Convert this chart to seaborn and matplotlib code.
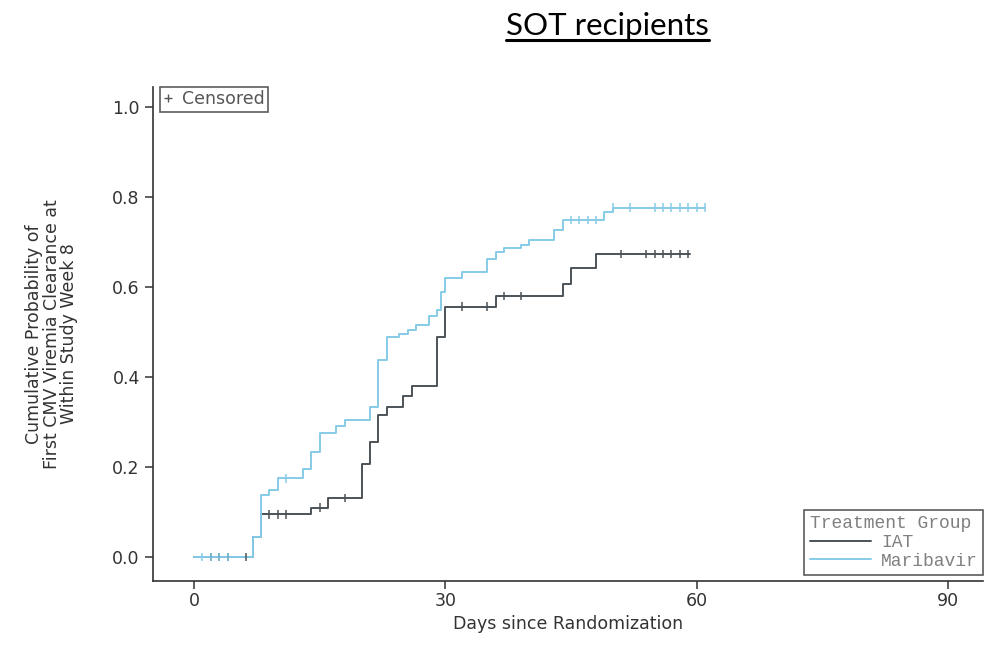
import numpy as np
import pandas as pd
import matplotlib
matplotlib.use("Agg")
import matplotlib.pyplot as plt
from matplotlib.lines import Line2D
import seaborn as sns

# Kaplan-Meier style step data (day of step, cumulative probability after step)
iat_days = [0, 7, 8, 14, 16, 20, 21, 22, 23, 25, 26, 29, 30, 36, 44, 45, 48]
iat_prob = [0.0, 0.044, 0.094, 0.109, 0.130, 0.207, 0.254, 0.315, 0.333,
            0.357, 0.379, 0.489, 0.556, 0.580, 0.607, 0.641, 0.672]
iat_end = 59.2
iat_censor = [2, 3, 4, 6.2, 9, 10, 11, 15, 18, 32, 35, 37, 39,
              51, 54, 55, 56, 57, 58, 59]

mar_days = [0, 7, 8, 9, 10, 13, 14, 15, 17, 18, 21, 22, 23, 24.5, 25.5, 26.5,
            28, 29, 29.5, 30, 32, 35, 36, 37, 39, 40, 43, 44, 49, 50]
mar_prob = [0.0, 0.044, 0.137, 0.148, 0.174, 0.196, 0.233, 0.276, 0.291, 0.304,
            0.333, 0.437, 0.489, 0.496, 0.504, 0.515, 0.535, 0.548, 0.589,
            0.619, 0.633, 0.661, 0.677, 0.685, 0.693, 0.703, 0.726, 0.748,
            0.767, 0.776]
mar_end = 61.0
mar_censor = [1, 2, 3, 4, 11, 45, 46, 47, 48, 50, 52, 55, 56, 57, 58, 59, 60, 61]

groups = ["IAT", "Maribavir"]
palette = {"IAT": "#4b5258", "Maribavir": "#86cbe8"}

x_ticks = [0, 30, 60, 90]
y_ticks = [0.0, 0.2, 0.4, 0.6, 0.8, 1.0]


def build_frames(name, days, prob, end, censor):
    days_arr = np.array(list(days) + [end])
    prob_arr = np.array(list(prob) + [prob[-1]])
    curve = pd.DataFrame({"day": days_arr, "prob": prob_arr, "group": name})
    idx = np.searchsorted(days_arr, censor, side="right") - 1
    cens = pd.DataFrame({"day": censor, "prob": prob_arr[idx], "group": name})
    return curve, cens


c1, k1 = build_frames("IAT", iat_days, iat_prob, iat_end, iat_censor)
c2, k2 = build_frames("Maribavir", mar_days, mar_prob, mar_end, mar_censor)
curves = pd.concat([c1, c2], ignore_index=True)
censored = pd.concat([k1, k2], ignore_index=True)

sns.set_style("ticks")
plt.rcParams["font.family"] = ["DejaVu Sans"]

fig = plt.figure(figsize=(9.84, 6.51), dpi=100)
ax = fig.add_axes([0.1555, 0.1075, 0.8435, 0.759])

sns.lineplot(data=curves, x="day", y="prob", hue="group", palette=palette,
             drawstyle="steps-post", estimator=None, sort=False,
             linewidth=1.4, legend=False, ax=ax)
sns.scatterplot(data=censored, x="day", y="prob", hue="group", palette=palette,
                marker="|", s=36, linewidth=1.1, legend=False, ax=ax, zorder=3)

ax.set_xlim(-4.9, 94.2)
ax.set_ylim(-0.054, 1.044)
ax.set_xticks(x_ticks)
ax.set_yticks(y_ticks)
ax.set_yticklabels([f"{v:.1f}" for v in y_ticks])
ax.tick_params(axis="both", labelsize=12.5, colors="#333333", length=6, width=1.1)
ax.tick_params(axis="x", pad=2)
for side in ["top", "right"]:
    ax.spines[side].set_visible(False)
for side in ["left", "bottom"]:
    ax.spines[side].set_color("#333333")
    ax.spines[side].set_linewidth(1.2)

ax.set_xlabel("Days since Randomization", fontsize=12.5, color="#333333")
ax.xaxis.set_label_coords(0.5, -0.069)
ax.set_ylabel("Cumulative Probability of\nFirst CMV Viremia Clearance at\nWithin Study Week 8",
              fontsize=12.5, color="#333333", linespacing=0.95, va="center")
ax.yaxis.set_label_coords(-0.122, 0.5)

# censored legend (top left)
cens_handle = Line2D([], [], linestyle="none", marker="+", color="#555555",
                     markersize=6, markeredgewidth=1)
leg1 = ax.legend([cens_handle], ["Censored"], loc="upper left",
                 bbox_to_anchor=(0.008, 1.0), borderaxespad=0, fontsize=12.5,
                 handlelength=0.6, handletextpad=0.5, borderpad=0.2,
                 frameon=True, fancybox=False, edgecolor="#333333",
                 labelcolor="#555555")
leg1.get_frame().set_linewidth(1.2)
ax.add_artist(leg1)

# treatment group legend (bottom right)
handles = [Line2D([], [], color=palette[g], linewidth=1.4) for g in groups]
leg2 = ax.legend(handles, groups, title="Treatment Group", loc="lower right",
                 bbox_to_anchor=(1.0, 0.012), borderaxespad=0,
                 prop={"family": "Liberation Mono", "size": 13},
                 title_fontproperties={"family": "Liberation Mono", "size": 13},
                 handlelength=3.4, handletextpad=0.55, labelspacing=0.1,
                 borderpad=0.3, frameon=True, fancybox=False,
                 edgecolor="#333333", labelcolor="#808080", alignment="left")
leg2.get_title().set_color("#808080")
leg2.get_frame().set_linewidth(1.2)

# underlined title
title = fig.text(0.617, 0.947, "SOT recipients", fontsize=22.5, family="Lato",
                 ha="center", va="baseline", color="black")
fig.canvas.draw()
bb = title.get_window_extent().transformed(fig.transFigure.inverted())
fig.add_artist(Line2D([bb.x0, bb.x1], [0.938, 0.938], color="black",
                      linewidth=2.2, transform=fig.transFigure))

fig.savefig("out.png", dpi=100)
